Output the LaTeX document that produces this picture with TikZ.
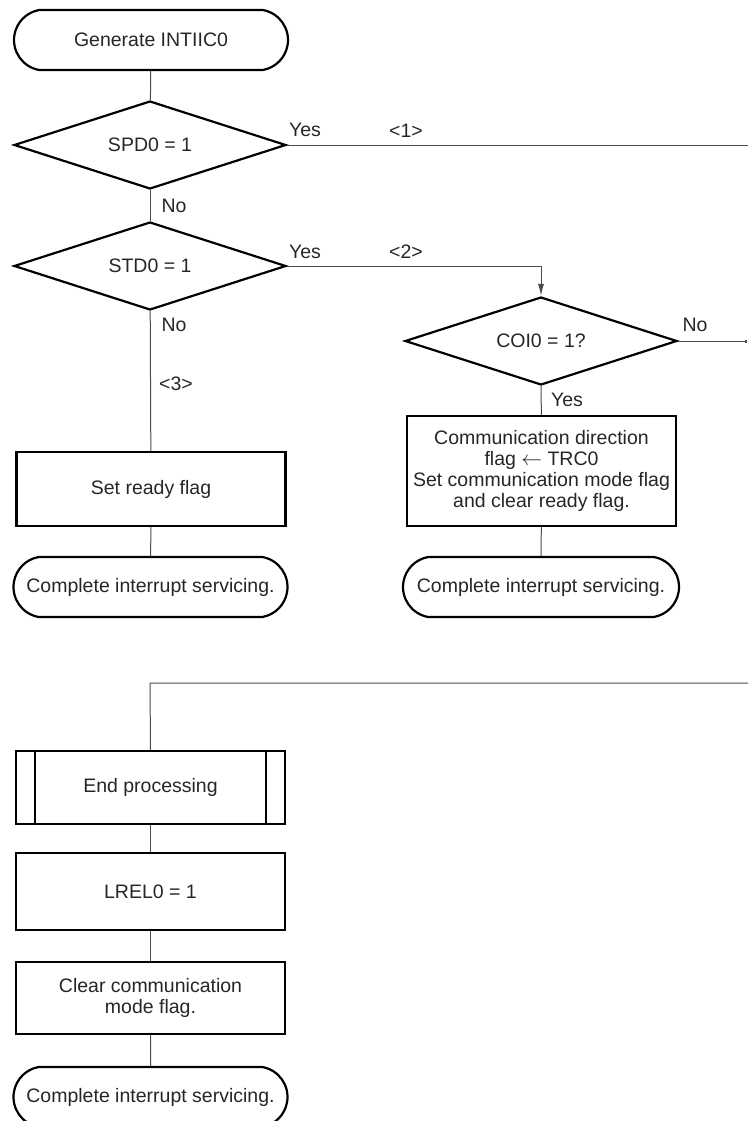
\documentclass[tikz,border=0pt]{standalone}
\usepackage{fontspec}
\setmainfont{Liberation Sans}
\usetikzlibrary{shapes.geometric,shapes.misc,arrows.meta}

\begin{document}
\begin{tikzpicture}[x=1pt,y=-1pt,
  every node/.style={font=\fontsize{19.5}{21}\selectfont, text=black!85},
  shp/.style={draw=black, line width=2.2pt},
  term/.style={shp, rounded rectangle, rounded rectangle arc length=160, minimum width=274pt, minimum height=60pt, inner sep=0pt},
  proc/.style={shp, rectangle, minimum width=269pt, inner sep=0pt, align=center},
  dec/.style={shp, diamond, aspect=3.09, minimum width=272pt, minimum height=88pt, inner sep=0pt},
  conn/.style={line width=1pt, draw=black!70},
  lbl/.style={inner sep=0pt}
]
\useasboundingbox (0,0) rectangle (748,1121);

% nodes
\node[term] (start) at (151,40) {Generate INTIIC0};
\node[dec] (d1) at (150,145) {SPD0 = 1};
\node[dec] (d2) at (150,266) {STD0 = 1};
\node[dec] (d3) at (541,341) {COI0 = 1?};
\node[proc, minimum height=110pt] (bR) at (541.5,471) {Communication direction\\flag \(\leftarrow\) TRC0\\Set communication mode flag\\and clear ready flag.};
\node[term, minimum width=276pt] (tR) at (541,587) {Complete interrupt servicing.};
\node[proc, minimum height=74pt] (bL) at (151,489) {Set ready flag};
\node[term] (tL) at (150.5,587) {Complete interrupt servicing.};
\node[proc, minimum height=73pt] (ep) at (150.5,787.5) {End processing};
\node[proc, minimum height=77pt] (lr) at (150.5,891.5) {LREL0 = 1};
\node[proc, minimum height=72pt] (cl) at (150.5,998) {Clear communication\\mode flag.};
\node[term] (tB) at (150.5,1097) {Complete interrupt servicing.};

\draw[shp] ([xshift=20pt]ep.north west) -- ([xshift=20pt]ep.south west);
\draw[shp] ([xshift=-20pt]ep.north east) -- ([xshift=-20pt]ep.south east);

% free ends
\coordinate (c1) at (748,145);
\coordinate (c2) at (747,341);
\coordinate (c3) at (748,683);
\coordinate (k2) at (541,266);
\coordinate (k3) at (150,683);

% connectors
\draw[conn] (start) -- (d1);
\draw[conn] (d1) -- (d2);
\draw[conn] (d1.east) -- (c1);
\draw[conn, -{Latex[length=12pt,width=6pt]}] (d2.east) -- (k2) -- (d3.north);
\draw[conn, -{Square[length=2.5pt,width=3pt]}] (d3.east) -- (c2);
\draw[conn] (d3) -- (bR);
\draw[conn] (bR) -- (tR);
\draw[conn] (d2) -- (bL);
\draw[conn] (bL) -- (tL);
\draw[conn] (c3) -- (k3) -- (ep.north);
\draw[conn] (ep) -- (lr);
\draw[conn] (lr) -- (cl);
\draw[conn] (cl) -- (tB);

% labels
\node[lbl] (y1) at (305,130) {Yes};
\node[lbl] (n1) at (406,131) {<1>};
\node[lbl] (no1) at (174,206) {No};
\node[lbl] (y2) at (305,252) {Yes};
\node[lbl] (n2) at (406,252) {<2>};
\node[lbl] (no2) at (174,325) {No};
\node[lbl] (n3) at (176,384) {<3>};
\node[lbl] (no3) at (695,325) {No};
\node[lbl] (y3) at (567,400) {Yes};
\end{tikzpicture}
\end{document}
